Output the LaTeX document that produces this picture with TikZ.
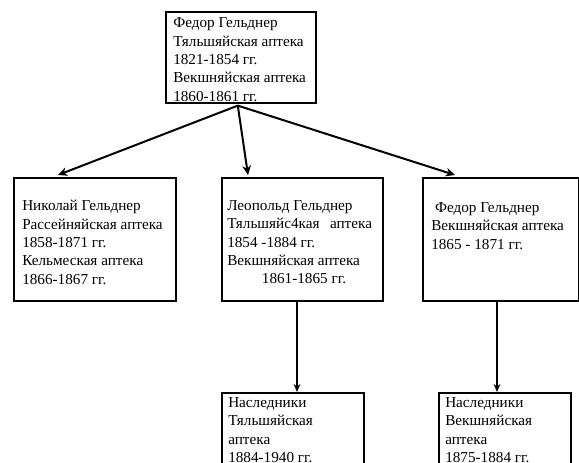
\documentclass[tikz,border=0pt]{standalone}
\usepackage{fontspec}
\setmainfont{Liberation Serif}
\usetikzlibrary{arrows.meta,positioning,calc}
\tikzset{
  card/.style={draw, line width=1.2pt, anchor=north west, inner sep=0pt},
  txt/.style={anchor=north west, align=left, inner sep=0pt,
    font=\fontsize{11.4}{13.8}\selectfont},
  link/.style={line width=1.5pt, -{Stealth[length=7pt,width=6.5pt]}},
  down/.style={line width=1.2pt, -{Stealth[length=6pt,width=5pt]}}
}

\begin{document}
\begin{tikzpicture}[x=0.75pt,y=-0.75pt]
  \useasboundingbox (0,0) rectangle (579,462);
  \clip (0,0) rectangle (579,462);

  % boxes
  \node[card, minimum width=112.5pt, minimum height=68.25pt] (top) at (165,11) {};
  \node[card, minimum width=121.5pt, minimum height=92.25pt] (nik) at (13,177) {};
  \node[card, minimum width=120.75pt, minimum height=92.25pt] (leo) at (221,177) {};
  \node[card, minimum width=117pt, minimum height=92.25pt] (fed) at (422,177) {};
  \node[card, minimum width=106.5pt, minimum height=62.25pt] (heirsA) at (221,392) {};
  \node[card, minimum width=99pt, minimum height=62.25pt] (heirsB) at (438,392) {};

  % texts
  \node[txt] (topTxt) at ($(top.north west)+(8,6.5)$)
    {Федор Гельднер\\Тяльшяйская аптека\\1821-1854 гг.\\Векшняйская аптека\\1860-1861 гг.};
  \node[txt] (nikTxt) at ($(nik.north west)+(9,23)$)
    {Николай Гельднер\\Рассейняйская аптека\\1858-1871 гг.\\Кельмеская аптека\\1866-1867 гг.};
  \node[txt] (leoTxt) at ($(leo.north west)+(6,23)$)
    {Леопольд Гельднер\\Тяльшяйс4кая\hspace{5pt} аптека\\1854 -1884 гг.\\Векшняйская аптека\\\hspace*{26pt}1861-1865 гг.};
  \node[txt] (fedTxt) at ($(fed.north west)+(9,25)$)
    {\ Федор Гельднер\\Векшняйская аптека\\1865 - 1871 гг.};
  \node[txt] (heirsATxt) at ($(heirsA.north west)+(7,5)$)
    {Наследники\\Тяльшяйская\\аптека\\1884-1940 гг.};
  \node[txt] (heirsBTxt) at ($(heirsB.north west)+(7,5)$)
    {Наследники\\Векшняйская\\аптека\\1875-1884 гг.};

  % arrows
  \coordinate (fork) at ($(top.south)+(-3,2)$);
  \draw[link] (fork) -- ($(nik.north west)+(45,-2)$);
  \draw[link] (fork) -- ($(leo.north west)+(27,-2)$);
  \draw[link] (fork) -- ($(fed.north west)+(33,-2)$);
  \draw[down] ($(leo.south west)+(76,0)$) -- ($(heirsA.north west)+(76,0)$);
  \draw[down] ($(fed.south west)+(75,0)$) -- ($(heirsB.north west)+(59,0)$);
\end{tikzpicture}
\end{document}
